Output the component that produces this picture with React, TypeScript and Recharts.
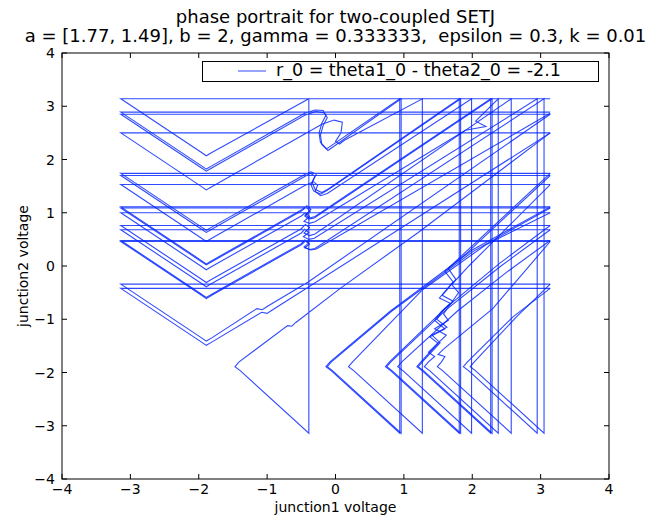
import React from "react";
import { LineChart, Line, XAxis, YAxis } from "recharts";

// trajectory pieces, [junction1, junction2]; wrap jumps at +-3.14 are part of the data
const lap01 = [[3.14, 3.14], [-3.14, 3.14], [-1.97, 2.14], [-1.89, 2.07], [-1.81, 2.13], [-0.39, 3.14], [-0.39, -3.14], [-1.39, -1.97], [-1.47, -1.89], [-1.41, -1.8], [-0.7, -1.12], [-0.64, -1.13], [-0.58, -1.06], [0.07, -0.42], [1.2, 0.62], [3.14, 2.5]];
const lap02 = [[3.14, 2.89], [-3.14, 2.89], [-1.97, 1.89], [-1.89, 1.82], [-1.81, 1.88], [-0.45, 2.87], [-0.3, 2.93], [-0.18, 2.92], [-0.14, 2.83], [-0.2, 2.68], [-0.24, 2.5], [-0.22, 2.32], [-0.13, 2.2], [0.94, 3.14], [0.94, -3.14], [-0.06, -1.97], [-0.14, -1.89], [-0.08, -1.8], [0.8, -0.85], [2.0, 0.3], [3.14, 1.11]];
const lap03 = [[3.14, 2.85], [-3.14, 2.85], [-1.97, 1.85], [-1.89, 1.78], [-1.81, 1.84], [-0.45, 2.83], [-0.29, 2.9], [-0.17, 2.88], [-0.12, 2.79], [-0.18, 2.64], [-0.22, 2.46], [-0.2, 2.28], [-0.11, 2.17], [0.96, 3.14], [0.96, -3.14], [-0.04, -1.97], [-0.12, -1.89], [-0.06, -1.8], [0.82, -0.85], [2.02, 0.28], [3.14, 1.09]];
const lap04 = [[3.14, 2.5], [-3.14, 2.5], [-1.97, 1.5], [-1.89, 1.43], [-1.81, 1.49], [-0.45, 2.48], [-0.2, 2.66], [-0.02, 2.74], [0.1, 2.7], [0.08, 2.5], [0.0, 2.34], [0.06, 2.29], [0.13, 2.36], [1.27, 3.14], [1.27, -3.14], [0.27, -1.97], [0.19, -1.89], [0.25, -1.8], [1.27, -0.45], [2.2, 0.4], [3.14, 1.0]];
const lap05 = [[3.14, 1.74], [-3.14, 1.74], [-1.97, 0.74], [-1.89, 0.67], [-1.81, 0.73], [-0.45, 1.72], [-0.36, 1.77], [-0.28, 1.73], [-0.34, 1.57], [-0.3, 1.44], [-0.2, 1.38], [-0.1, 1.45], [1.81, 3.14], [1.81, -3.14], [0.81, -1.97], [0.73, -1.89], [0.79, -1.8], [1.6, -0.8], [2.4, 0.05], [3.14, 0.76]];
const lap06 = [[3.14, 1.7], [-3.14, 1.7], [-1.97, 0.7], [-1.89, 0.63], [-1.81, 0.69], [-0.45, 1.68], [-0.37, 1.74], [-0.3, 1.69], [-0.36, 1.53], [-0.32, 1.41], [-0.22, 1.35], [-0.12, 1.42], [1.83, 3.14], [1.83, -3.14], [0.83, -1.97], [0.75, -1.89], [0.81, -1.8], [1.62, -0.82], [2.42, 0.0], [3.14, 0.68]];
const lap07 = [[3.14, 1.53], [-3.14, 1.53], [-1.97, 0.53], [-1.89, 0.46], [-1.81, 0.52], [-0.45, 1.51], [-0.32, 1.58], [-0.26, 1.52], [-0.3, 1.4], [-0.22, 1.32], [-0.12, 1.36], [1.99, 3.14], [1.99, -3.14], [0.99, -1.97], [0.91, -1.89], [0.97, -1.8], [1.78, -0.85], [2.5, -0.12], [3.14, 0.48]];
const lap08 = [[3.14, 1.11], [-3.14, 1.11], [-1.97, 0.11], [-1.89, 0.04], [-1.81, 0.1], [-0.5, 1.05], [-0.42, 1.13], [-0.36, 1.06], [-0.44, 0.96], [-0.38, 0.9], [-0.3, 0.93], [2.27, 3.14], [2.27, -3.14], [1.27, -1.97], [1.19, -1.89], [1.25, -1.8], [1.5, -1.45], [1.38, -1.33], [1.6, -1.18], [1.45, -1.02], [1.55, -0.85], [1.68, -0.7], [1.52, -0.6], [1.72, -0.3], [1.6, -0.1], [1.85, 0.2], [3.14, 1.74]];
const lap09 = [[3.14, 1.09], [-3.14, 1.09], [-1.97, 0.09], [-1.89, 0.02], [-1.81, 0.08], [-0.5, 1.03], [-0.43, 1.1], [-0.37, 1.03], [-0.45, 0.94], [-0.39, 0.88], [-0.31, 0.9], [2.29, 3.14], [2.29, -3.14], [1.29, -1.97], [1.21, -1.89], [1.27, -1.8], [1.53, -1.44], [1.41, -1.3], [1.63, -1.15], [1.48, -1.0], [1.58, -0.83], [1.72, -0.66], [1.56, -0.55], [1.76, -0.25], [1.65, -0.05], [1.9, 0.22], [3.14, 1.7]];
const lap10 = [[3.14, 1.0], [-3.14, 1.0], [-1.97, 0.0], [-1.89, -0.07], [-1.81, -0.01], [-0.5, 0.94], [-0.44, 1.0], [-0.38, 0.93], [-0.46, 0.84], [-0.38, 0.8], [-0.3, 0.83], [1.9, 2.55], [2.2, 2.62], [2.05, 2.72], [2.38, 3.14], [2.38, -3.14], [1.38, -1.97], [1.3, -1.89], [1.36, -1.8], [1.45, -1.7], [1.36, -1.62], [1.62, -1.3], [1.45, -1.18], [1.65, -1.02], [1.58, -0.9], [1.8, -0.5], [1.7, -0.35], [1.95, 0.0], [3.14, 1.53]];
const lap11 = [[3.14, 0.76], [-3.14, 0.76], [-1.97, -0.24], [-1.89, -0.31], [-1.81, -0.25], [-0.5, 0.7], [-0.44, 0.78], [-0.38, 0.72], [-0.46, 0.62], [-0.38, 0.57], [-0.3, 0.6], [2.57, 3.14], [2.57, -3.14], [1.57, -1.97], [1.49, -1.89], [1.55, -1.8], [1.6, -1.7], [1.5, -1.66], [1.58, -1.56], [2.3, -0.8], [3.14, 0.46]];
const lap12 = [[3.14, 0.68], [-3.14, 0.68], [-1.97, -0.32], [-1.89, -0.39], [-1.81, -0.33], [-0.5, 0.62], [-0.45, 0.69], [-0.39, 0.63], [-0.47, 0.55], [-0.39, 0.5], [-0.31, 0.52], [2.95, 3.14], [2.95, -3.14], [1.95, -1.97], [1.87, -1.89], [1.93, -1.8], [2.6, -0.95], [3.14, -0.42]];
const lap13 = [[3.14, 0.48], [-3.14, 0.48], [-1.97, -0.52], [-1.89, -0.59], [-1.81, -0.53], [-0.5, 0.42], [-0.45, 0.49], [-0.39, 0.43], [-0.46, 0.36], [-0.38, 0.31], [-0.3, 0.33], [3.05, 3.14], [3.05, -3.14], [2.05, -1.97], [1.97, -1.89], [2.03, -1.8], [2.65, -0.95], [3.14, -0.34]];
const lap14 = [[3.14, 0.46], [-3.14, 0.46], [-1.97, -0.54], [-1.89, -0.61], [-1.81, -0.55], [-0.5, 0.4], [-0.44, 0.47], [-0.38, 0.41], [-0.45, 0.34], [-0.36, 0.3], [-0.28, 0.32], [3.14, 2.87]];
const lap15 = [[3.14, -0.34], [-3.14, -0.34], [-1.97, -1.34], [-1.89, -1.41], [-1.81, -1.35], [-1.15, -0.8], [-1.07, -0.82], [-1.0, -0.76], [-0.4, -0.3], [3.14, 2.85]];
const lap16 = [[3.14, -0.42], [-3.14, -0.42], [-1.97, -1.42], [-1.89, -1.49], [-1.81, -1.43], [-1.08, -0.87], [-1.0, -0.89], [-0.93, -0.83], [-0.4, -0.4], [3.14, 2.5]];

const laps = [lap01, lap02, lap03, lap04, lap05, lap06, lap07, lap08, lap09, lap10, lap11, lap12, lap13, lap14, lap15, lap16];

const xTicks = [-4, -3, -2, -1, 0, 1, 2, 3, 4];
const yTicks = [-4, -3, -2, -1, 0, 1, 2, 3, 4];

const titleLines = [
  "phase portrait for two-coupled SETJ",
  "a = [1.77, 1.49], b = 2, gamma = 0.333333,  epsilon = 0.3, k = 0.01",
];
const legendLabel = "r_0 = theta1_0 - theta2_0 = -2.1";
const xLabel = "junction1 voltage";
const yLabel = "junction2 voltage";

const W = 657;
const H = 516;
const LEFT = 62;
const RIGHT = 609;
const TOP = 53;
const BOTTOM = 479;
const AXIS_X_H = 20;
const AXIS_Y_W = 20;
const BLUE = "#0022ff";
const FONT = "'DejaVu Sans', sans-serif";

const fmt = (v: number) => (v < 0 ? "\u2212" + Math.abs(v) : String(v));

const XTick = (props: any) => {
  const { x, payload } = props;
  return (
    <g>
      <line x1={x} x2={x} y1={BOTTOM} y2={BOTTOM - 5} stroke="#000" />
      <line x1={x} x2={x} y1={TOP} y2={TOP + 5} stroke="#000" />
      <text x={x} y={494} textAnchor="middle" fontSize={14} fontFamily={FONT} fill="#000">
        {fmt(payload.value)}
      </text>
    </g>
  );
};

const YTick = (props: any) => {
  const { y, payload } = props;
  return (
    <g>
      <line x1={LEFT} x2={LEFT + 5} y1={y} y2={y} stroke="#000" />
      <line x1={RIGHT} x2={RIGHT - 5} y1={y} y2={y} stroke="#000" />
      <text x={55} y={y + 5} textAnchor="end" fontSize={14} fontFamily={FONT} fill="#000">
        {fmt(payload.value)}
      </text>
    </g>
  );
};

export default function App() {
  return (
    <div style={{ position: "absolute", left: 0, top: 0, width: W, height: H, background: "#fff" }}>
      <LineChart
        width={W}
        height={H}
        margin={{ top: TOP, right: W - RIGHT, bottom: H - BOTTOM - AXIS_X_H, left: LEFT - AXIS_Y_W }}
      >
        <XAxis
          type="number"
          dataKey="x"
          domain={[-4, 4]}
          ticks={xTicks}
          interval={0}
          allowDataOverflow
          axisLine={false}
          tickLine={false}
          height={AXIS_X_H}
          tick={(p: any) => <XTick {...p} />}
        />
        <YAxis
          type="number"
          domain={[-4, 4]}
          ticks={yTicks}
          interval={0}
          allowDataOverflow
          axisLine={false}
          tickLine={false}
          width={AXIS_Y_W}
          tick={(p: any) => <YTick {...p} />}
        />
        {laps.map((lap, i) => (
          <Line
            key={i}
            data={lap.map(([x, y]) => ({ x, y }))}
            dataKey="y"
            type="linear"
            dot={false}
            activeDot={false}
            stroke={BLUE}
            strokeOpacity={0.82}
            strokeWidth={1.1}
            isAnimationActive={false}
          />
        ))}
      </LineChart>
      <svg
        width={W}
        height={H}
        style={{ position: "absolute", left: 0, top: 0, pointerEvents: "none" }}
        fontFamily={FONT}
      >
        <rect x={LEFT} y={TOP} width={RIGHT - LEFT} height={BOTTOM - TOP} fill="none" stroke="#000" strokeWidth={1} />
        <text x={(LEFT + RIGHT) / 2} y={23} textAnchor="middle" fontSize={18} style={{ whiteSpace: "pre" }}>
          {titleLines[0]}
        </text>
        <text x={(LEFT + RIGHT) / 2} y={42} textAnchor="middle" fontSize={18} style={{ whiteSpace: "pre" }}>
          {titleLines[1]}
        </text>
        <rect x={202.5} y={61.5} width={396} height={20} fill="#fff" stroke="#000" strokeWidth={1} />
        <line x1={238} x2={266} y1={71} y2={71} stroke={BLUE} strokeOpacity={0.82} />
        <text x={276} y={76} fontSize={17.5}>
          {legendLabel}
        </text>
        <text x={(LEFT + RIGHT) / 2} y={512} textAnchor="middle" fontSize={14}>
          {xLabel}
        </text>
        <text
          x={0}
          y={0}
          textAnchor="middle"
          fontSize={14}
          transform={`translate(28, ${(TOP + BOTTOM) / 2}) rotate(-90)`}
        >
          {yLabel}
        </text>
      </svg>
    </div>
  );
}
